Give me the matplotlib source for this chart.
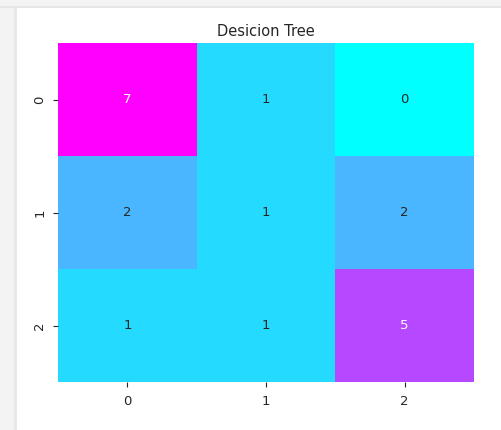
import matplotlib
matplotlib.use("Agg")
import matplotlib.pyplot as plt
import seaborn as sns
import numpy as np

# confusion matrix values
cm = np.array([[7, 1, 0],
               [2, 1, 2],
               [1, 1, 5]])
labels = ["0", "1", "2"]
title = "Desicion Tree"

fig = plt.figure(figsize=(5.02, 4.30), dpi=100, facecolor="#f3f3f3")
# white page area of the screenshot
fig.patches.append(plt.Rectangle((17 / 502, 0), 1, 1 - 8 / 430, transform=fig.transFigure,
                                 facecolor="white", edgecolor="none", zorder=-1))
fig.patches.append(plt.Rectangle((14 / 502, 0), 3 / 502, 1 - 8 / 430, transform=fig.transFigure,
                                 facecolor="#e8e8e8", edgecolor="none", zorder=-1))
fig.patches.append(plt.Rectangle((0, 1 - 8 / 430), 1, 2 / 430, transform=fig.transFigure,
                                 facecolor="#e6e6e6", edgecolor="none", zorder=-1))

ax = fig.add_axes([58 / 502, 1 - 382 / 430, 416 / 502, 339 / 430])
sns.heatmap(cm, annot=True, cmap="cool", cbar=False, ax=ax,
            xticklabels=labels, yticklabels=labels,
            annot_kws={"fontsize": 9.5})
ax.set_title(title, fontsize=10.5, color="#262626", pad=5)
ax.tick_params(labelsize=9.5, colors="#262626", length=3.5)
ax.tick_params(axis="x", pad=6)
ax.tick_params(axis="y", pad=5)

fig.savefig("out.png", dpi=100, facecolor=fig.get_facecolor())
